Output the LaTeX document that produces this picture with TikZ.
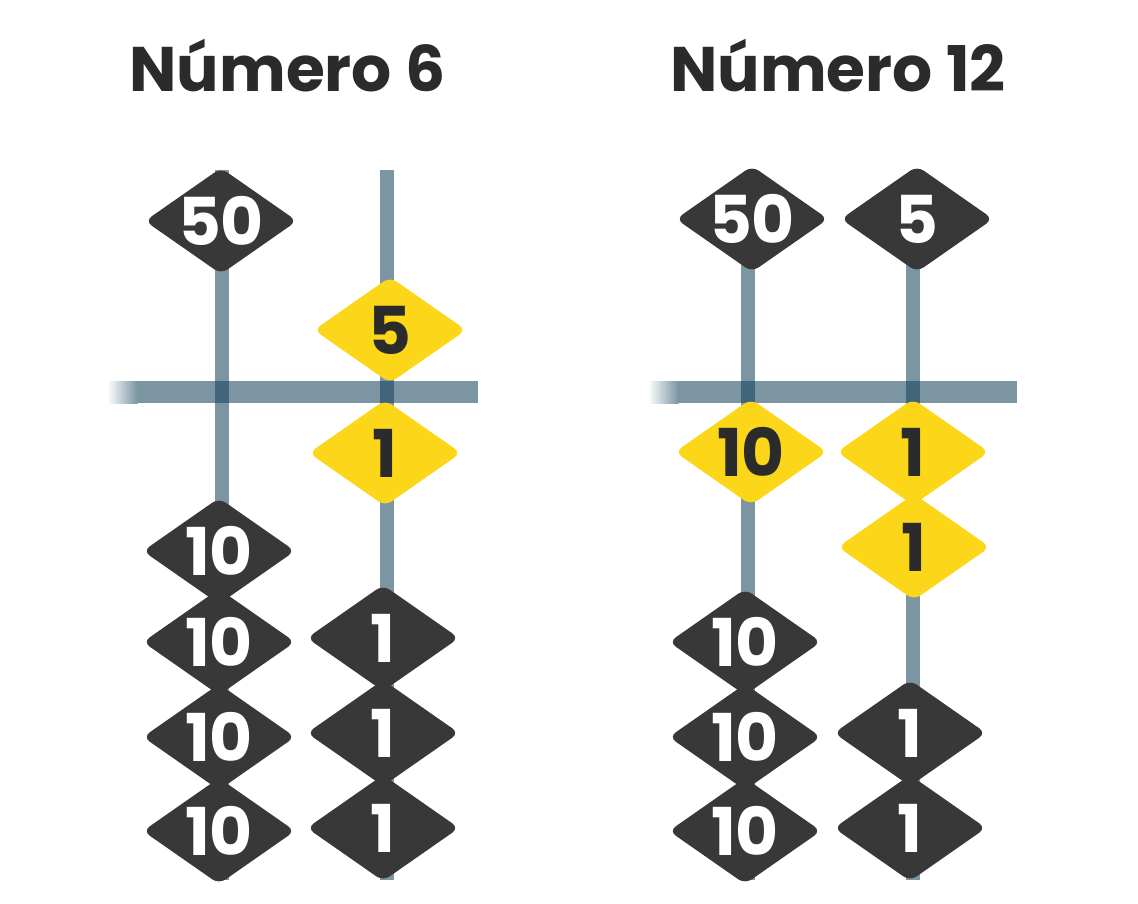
\documentclass[tikz,border=0pt]{standalone}
\usepackage{fontspec}
\setmainfont{Poppins}
\usetikzlibrary{shapes.geometric}
\definecolor{beadDark}{HTML}{383838}
\definecolor{beadYellow}{HTML}{FBD619}
\definecolor{inkDark}{HTML}{2B2B2B}
\definecolor{rodBase}{RGB}{16,62,88}
\definecolor{rodTint}{RGB}{123,149,163}
\tikzset{
  rodline/.style={draw=rodBase, draw opacity=0.55, line width=14pt},
  beamrect/.style={fill=rodBase, fill opacity=0.55},
  beadbase/.style={shape=diamond, minimum width=152pt, minimum height=106pt,
    inner sep=0pt, outer sep=0pt, rounded corners=8pt},
  darkbead/.style={beadbase, fill=beadDark,
    label={[text=white, font=\bfseries\fontsize{66}{66}\selectfont]center:#1}},
  yellowbead/.style={beadbase, fill=beadYellow,
    label={[text=inkDark, font=\bfseries\fontsize{66}{66}\selectfont]center:#1}},
  titletext/.style={text=inkDark, font=\bfseries\fontsize{63}{63}\selectfont, anchor=base, inner sep=0pt}
}
\begin{document}
\begin{tikzpicture}[x=1pt, y=-1pt]
\useasboundingbox (0,0) rectangle (1138,904);
% titles
\node[titletext] (t1) at (287.5,92) {Número 6};
\node[titletext] (t2) at (838,92) {Número 12};
% rod end coordinates
\coordinate (la1) at (222,170); \coordinate (lb1) at (222,880);
\coordinate (la2) at (387,170); \coordinate (lb2) at (387,880);
\coordinate (ra1) at (748,215); \coordinate (rb1) at (748,880);
\coordinate (ra2) at (913,215); \coordinate (rb2) at (913,880);
\draw[rodline] (la1) -- (lb1);
\draw[rodline] (la2) -- (lb2);
\draw[rodline] (ra1) -- (rb1);
\draw[rodline] (ra2) -- (rb2);
% beams
\path[beamrect] (137,381) rectangle (478,403);
\shade[left color=white, right color=rodTint] (107,381) rectangle (137.5,403);
\path[beamrect] (678,381) rectangle (1017,403);
\shade[left color=white, right color=rodTint] (648,381) rectangle (678.5,403);
% left abacus beads
\node[darkbead=50] (L50) at (221,221) {};
\node[yellowbead=5] (L5) at (390,330) {};
\node[yellowbead=1] (L1y) at (385,453) {};
\node[darkbead=10] (L10a) at (219,551) {};
\node[darkbead=10] (L10b) at (219,642) {};
\node[darkbead=10] (L10c) at (219,737) {};
\node[darkbead=10] (L10d) at (219,831) {};
\node[darkbead=1] (L1a) at (383,638) {};
\node[darkbead=1] (L1b) at (383,733) {};
\node[darkbead=1] (L1c) at (383,828) {};
% right abacus beads
\node[darkbead=50] (R50) at (752,219) {};
\node[darkbead=5] (R5) at (917,219) {};
\node[yellowbead=10] (R10y) at (751,452) {};
\node[yellowbead=1] (R1y) at (913,452) {};
\node[yellowbead=1] (R1y2) at (914,547) {};
\node[darkbead=10] (R10a) at (745,642) {};
\node[darkbead=10] (R10b) at (745,737) {};
\node[darkbead=10] (R10c) at (745,831) {};
\node[darkbead=1] (R1a) at (910,733) {};
\node[darkbead=1] (R1b) at (910,828) {};
\end{tikzpicture}
\end{document}
